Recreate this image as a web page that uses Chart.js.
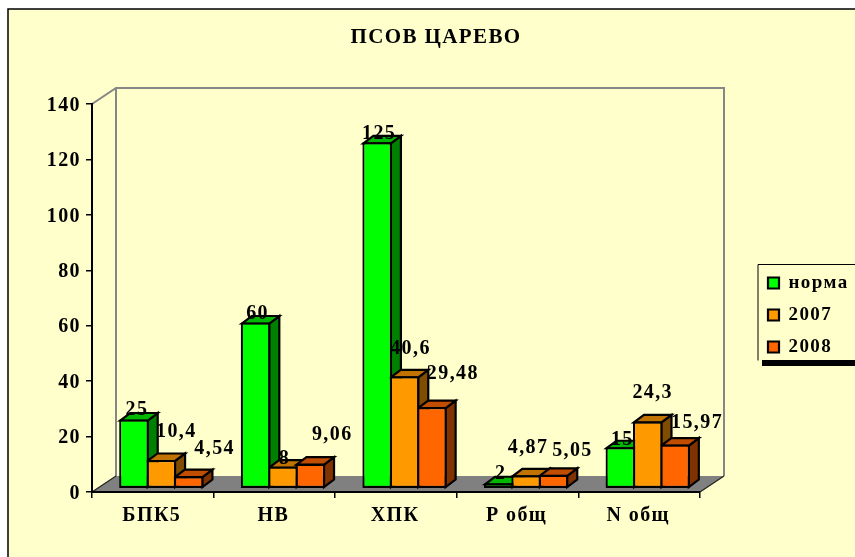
<!DOCTYPE html>
<html>
<head>
<meta charset="utf-8">
<style>html,body{margin:0;padding:0;background:#fff}canvas{display:block}</style>
<script src="https://cdn.jsdelivr.net/npm/chart.js@4"></script>
</head>
<body>
<canvas id="c" width="855" height="557"></canvas>
<script>
const chartTitle = 'ПСОВ ЦАРЕВО';
const categories = ['БПК5', 'НВ', 'ХПК', 'Р общ', 'N общ'];
const seriesNames = ['норма', '2007', '2008'];
const norma = [25, 60, 125, 2, 15];
const y2007 = [10.4, 8, 40.6, 4.87, 24.3];
const y2008 = [4.54, 9.06, 29.48, 5.05, 15.97];
const yTicksStep = 20;
const yMax = 140;

// label placement relative to the top centre of each bar
const shiftNorma = [[3,-4],[2,-3],[2,-3],[2,-4],[2,-2]];
const shift2007 = [[15,-22],[1.5,-2],[6,-22],[2,-22],[5,-23]];
const shift2008 = [[26,-22],[22,-23],[21,-28],[19,-18],[22,-16]];

const FONT = 'bold 20px "Liberation Serif"';
const SPACING = '1.4px';
const BG = '#FFFFCC';
const colors = [
  {front:'#00FF00', side:'#008000', top:'#00B800'},
  {front:'#FF9900', side:'#804D00', top:'#C07300'},
  {front:'#FF6600', side:'#803300', top:'#C04D00'}
];
const wallDX = 24, wallDY = -16;   // depth of the box
const barShiftX = 8.5, barShiftY = -3.2; // bars stand inside the floor
const barDX = 10, barDY = -7.5;    // depth of a bar

function poly(ctx, pts, fill, stroke, lw) {
  ctx.beginPath();
  pts.forEach((p, i) => i ? ctx.lineTo(p[0], p[1]) : ctx.moveTo(p[0], p[1]));
  ctx.closePath();
  if (fill) { ctx.fillStyle = fill; ctx.fill(); }
  if (stroke) { ctx.strokeStyle = stroke; ctx.lineWidth = lw; ctx.stroke(); }
}

const scene = {
  id: 'scene',
  afterLayout(chart) {
    const lg = chart.legend;
    lg.left = 755; lg.right = 855; lg.width = 100;
    lg.top = 209; lg.bottom = 421; lg.height = 212;
    const t = chart.titleBlock;
    t.left = 17; t.right = 855; t.width = 838;
  },
  beforeDraw(chart) {
    const ctx = chart.ctx, a = chart.chartArea;
    ctx.letterSpacing = SPACING;
    ctx.save();
    // page panel
    ctx.fillStyle = '#fff'; ctx.fillRect(0, 0, 855, 557);
    ctx.fillStyle = BG; ctx.fillRect(8, 9, 847, 548);
    ctx.strokeStyle = '#000'; ctx.lineWidth = 1.5;
    ctx.beginPath(); ctx.moveTo(8, 557); ctx.lineTo(8, 9); ctx.lineTo(855, 9); ctx.stroke();
    // walls and floor
    const l = a.left, r = a.right, t = a.top, b = a.bottom;
    poly(ctx, [[l,b],[l+wallDX,b+wallDY],[r+wallDX,b+wallDY],[r,b]], '#808080');
    ctx.strokeStyle = '#868686'; ctx.lineWidth = 2; ctx.lineJoin = 'miter';
    ctx.beginPath();
    ctx.moveTo(l, t); ctx.lineTo(l+wallDX, t+wallDY); ctx.lineTo(r+wallDX, t+wallDY); ctx.lineTo(r+wallDX, b+wallDY);
    ctx.moveTo(l+wallDX, t+wallDY); ctx.lineTo(l+wallDX, b+wallDY);
    ctx.stroke();
    ctx.strokeStyle = '#222'; ctx.lineWidth = 1.2;
    ctx.beginPath(); ctx.moveTo(r, b); ctx.lineTo(r+wallDX, b+wallDY); ctx.moveTo(l, b); ctx.lineTo(l+wallDX, b+wallDY); ctx.stroke();
    // legend frame
    ctx.fillStyle = '#000'; ctx.fillRect(762, 360, 93, 6);
    ctx.fillStyle = BG; ctx.fillRect(758, 264, 97, 96);
    ctx.strokeStyle = '#000'; ctx.lineWidth = 1;
    ctx.beginPath(); ctx.moveTo(758, 360.5); ctx.lineTo(758, 264.5); ctx.lineTo(855, 264.5); ctx.stroke();
    ctx.restore();
  },
  beforeDatasetsDraw(chart) {
    const ctx = chart.ctx;
    ctx.save();
    ctx.translate(barShiftX, barShiftY);
    const shifts = [shiftNorma, shift2007, shift2008];
    categories.forEach((_, i) => {
      chart.data.datasets.forEach((ds, d) => {
        const bar = chart.getDatasetMeta(d).data[i];
        const L = bar.x - bar.width / 2 + 1, R = bar.x + bar.width / 2 - 1;
        const T = bar.y + 1, B = bar.base - 1;
        ctx.lineJoin = 'miter';
        poly(ctx, [[R,T],[R+barDX,T+barDY],[R+barDX,B+barDY],[R,B]], colors[d].side, '#000', 2.2);
        poly(ctx, [[L,T],[L+barDX,T+barDY],[R+barDX,T+barDY],[R,T]], colors[d].top, '#000', 2.2);
        ctx.font = FONT; ctx.fillStyle = '#000';
        ctx.textAlign = 'center'; ctx.textBaseline = 'alphabetic';
        ctx.fillText(String(ds.data[i]).replace('.', ','), bar.x + shifts[d][i][0], bar.y + shifts[d][i][1] - 0.5);
      });
    });
  },
  afterDatasetsDraw(chart) { chart.ctx.restore(); }
};

const makeSet = (label, data, d) => ({
  label, data,
  backgroundColor: colors[d].front,
  borderColor: '#000',
  borderWidth: 2.2,
  borderSkipped: false,
  clip: false,
  categoryPercentage: 0.675,
  barPercentage: 1.08
});

const axisFont = { family: '"Liberation Serif"', weight: 'bold', size: 20 };

new Chart(document.getElementById('c'), {
  type: 'bar',
  data: {
    labels: categories,
    datasets: [makeSet(seriesNames[0], norma, 0), makeSet(seriesNames[1], y2007, 1), makeSet(seriesNames[2], y2008, 2)]
  },
  plugins: [scene],
  options: {
    responsive: false,
    animation: false,
    layout: { padding: { left: 0, right: 155, top: 0, bottom: 0 } },
    plugins: {
      tooltip: { enabled: false },
      title: {
        display: true, text: chartTitle, color: '#000',
        font: { family: '"Liberation Serif"', weight: 'bold', size: 21 },
        padding: { top: 25, bottom: 53.8 }
      },
      legend: {
        position: 'chartArea', align: 'center',
        labels: {
          color: '#000',
          font: { family: '"Liberation Serif"', weight: 'bold', size: 19 },
          boxWidth: 11, boxHeight: 11, padding: 13
        }
      }
    },
    scales: {
      x: {
        afterFit(s) { s.height = 65; },
        border: { display: true, color: '#000', width: 2 },
        grid: { display: true, offset: true, drawOnChartArea: false, drawTicks: true, tickLength: 6, color: '#000', lineWidth: 1.5 },
        ticks: { color: '#000', font: axisFont, maxRotation: 0, padding: 6, labelOffset: -1 }
      },
      y: {
        min: 0, max: yMax,
        afterFit(s) { s.width = 92; },
        border: { display: true, color: '#000', width: 2 },
        grid: { display: true, drawOnChartArea: false, drawTicks: true, tickLength: 6, color: '#000', lineWidth: 1.5 },
        ticks: { stepSize: yTicksStep, color: '#000', font: axisFont, padding: 5, labelOffset: 1.5 }
      }
    }
  }
});
</script>
</body>
</html>
